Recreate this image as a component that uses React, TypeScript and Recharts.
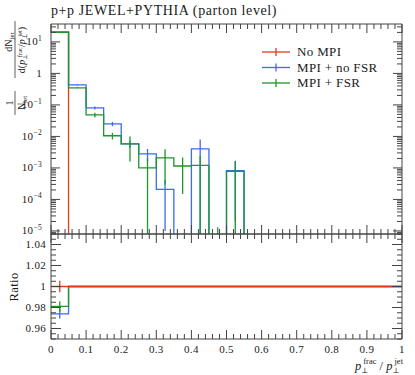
import React from "react";
import { ComposedChart, Line, XAxis, YAxis, ReferenceLine } from "recharts";

// bin edges of the p_perp^frac / p_perp^jet histogram (20 bins of 0.05)
const binEdges = [
  0, 0.05, 0.1, 0.15, 0.2, 0.25, 0.3, 0.35, 0.4, 0.45, 0.5, 0.55, 0.6, 0.65, 0.7, 0.75, 0.8, 0.85,
  0.9, 0.95, 1,
];

// 1/N dN/d(x), per bin
const noMpi = [20.6, 0, 0, 0, 0, 0, 0, 0, 0, 0, 0, 0, 0, 0, 0, 0, 0, 0, 0, 0];
const mpiNoFsr = [
  20.0, 0.43, 0.08, 0.025, 0.0058, 0.0028, 0.00021, 0, 0.004, 0, 0.00082, 0, 0, 0, 0, 0, 0, 0, 0, 0,
];
const mpiFsr = [
  20.2, 0.35, 0.048, 0.0105, 0.0058, 0.001, 0.0021, 0.00115, 0.0012, 0, 0.00078, 0, 0, 0, 0, 0, 0, 0,
  0, 0,
];

const noMpiErr = [0.1, 0, 0, 0, 0, 0, 0, 0, 0, 0, 0, 0, 0, 0, 0, 0, 0, 0, 0, 0];
const mpiNoFsrErr = [
  0.1, 0.02, 0.009, 0.004, 0.0015, 0.0012, 0.0002, 0, 0.004, 0, 0.0008, 0, 0, 0, 0, 0, 0, 0, 0, 0,
];
const mpiFsrErr = [
  0.1, 0.015, 0.008, 0.0025, 0.0042, 0.001, 0.0018, 0.001, 0.0012, 0.000013, 0.0009, 0, 0, 0, 0, 0,
  0, 0, 0, 0,
];

// ratio to "No MPI"
const ratioNoMpi = [1, 1, 1, 1, 1, 1, 1, 1, 1, 1, 1, 1, 1, 1, 1, 1, 1, 1, 1, 1];
const ratioNoFsr = [0.974, 1, 1, 1, 1, 1, 1, 1, 1, 1, 1, 1, 1, 1, 1, 1, 1, 1, 1, 1];
const ratioFsr = [0.981, 1, 1, 1, 1, 1, 1, 1, 1, 1, 1, 1, 1, 1, 1, 1, 1, 1, 1, 1];
const ratioNoMpiErr = [0.0055, 0, 0, 0, 0, 0, 0, 0, 0, 0, 0, 0, 0, 0, 0, 0, 0, 0, 0, 0];
const ratioNoFsrErr = [0.0045, 0, 0, 0, 0, 0, 0, 0, 0, 0, 0, 0, 0, 0, 0, 0, 0, 0, 0, 0];
const ratioFsrErr = [0.005, 0, 0, 0, 0, 0, 0, 0, 0, 0, 0, 0, 0, 0, 0, 0, 0, 0, 0, 0];

const seriesNames = ["No MPI", "MPI + no FSR", "MPI + FSR"];
const RED = "#e63a1e";
const BLUE = "#3a6cf4";
const GREEN = "#1f962a";
const colors = [RED, BLUE, GREEN];

const xMajor = [0, 0.1, 0.2, 0.3, 0.4, 0.5, 0.6, 0.7, 0.8, 0.9, 1];
const xTicks = Array.from({ length: 51 }, (_, i) => i / 50);
const logMajor = [1e-5, 1e-4, 1e-3, 1e-2, 1e-1, 1, 10];
const LOG_DOMAIN: [number, number] = [8e-6, 37];
const logTicks = [1e-6, 1e-5, 1e-4, 1e-3, 1e-2, 1e-1, 1, 10]
  .flatMap((d) => [1, 2, 3, 4, 5, 6, 7, 8, 9].map((m) => d * m))
  .filter((v) => v >= LOG_DOMAIN[0] && v <= LOG_DOMAIN[1]);
const RATIO_DOMAIN: [number, number] = [0.95, 1.05];
const ratioTicks = Array.from({ length: 21 }, (_, i) => +(0.95 + i * 0.005).toFixed(3));

const FLOOR = 1e-9;
const AX = "#444";
const TXT = "#1a1a1a";
const FONT = "Liberation Serif, DejaVu Serif, serif";
const fontStyle = { fontFamily: FONT, letterSpacing: 0.3 };

const pos = (v: number) => (v > 0 ? v : FLOOR);

const topRows = binEdges.map((x, i) => {
  const k = Math.min(i, noMpi.length - 1);
  return { x, red: pos(noMpi[k]), blue: pos(mpiNoFsr[k]), green: pos(mpiFsr[k]) };
});

const ratioRows = binEdges.map((x, i) => {
  const k = Math.min(i, ratioNoMpi.length - 1);
  return { x, red: ratioNoMpi[k], blue: ratioNoFsr[k], green: ratioFsr[k] };
});

function errSegments(vals: number[], errs: number[], floor: number) {
  return vals
    .map((v, i) => ({
      c: (binEdges[i] + binEdges[i + 1]) / 2,
      lo: Math.max(v - errs[i], floor),
      hi: v + errs[i],
      e: errs[i],
    }))
    .filter((s) => s.e > 0);
}

const near = (a: number, b: number) => Math.abs(a - b) < 1e-6;
const isXMajor = (v: number) => xMajor.some((m) => near(m, v));
const isLogMajor = (v: number) => logMajor.some((m) => Math.abs(m - v) / m < 1e-6);
const isRatioMajor = (v: number) => near(v * 50, Math.round(v * 50));

function fmtX(v: number) {
  if (near(v, 0)) return "0";
  if (near(v, 1)) return "1";
  return v.toFixed(1);
}

function fmtRatio(v: number) {
  if (near(v, 1)) return "1";
  return v.toFixed(2);
}

function XTick(props: any) {
  const { x, y, payload, side, labels } = props;
  const v = payload.value;
  const major = isXMajor(v);
  const len = major ? 9 : 5;
  const dir = side === "bottom" ? -1 : 1;
  return (
    <g>
      <line x1={x} x2={x} y1={y} y2={y + dir * len} stroke={AX} strokeWidth={1} />
      {labels && major && (
        <text x={x} y={y + 14} textAnchor="middle" fontSize={11} fill={TXT} style={fontStyle}>
          {fmtX(v)}
        </text>
      )}
    </g>
  );
}

function LogTick(props: any) {
  const { x, y, payload, side } = props;
  const v = payload.value;
  const major = isLogMajor(v);
  const len = major ? 9 : 5;
  const dir = side === "left" ? 1 : -1;
  const e = Math.round(Math.log10(v));
  return (
    <g>
      <line x1={x} x2={x + dir * len} y1={y} y2={y} stroke={AX} strokeWidth={1} />
      {side === "left" && major && (
        <text x={x - 9} y={y + 3.5} textAnchor="end" fontSize={11} fill={TXT} style={fontStyle}>
          {e === 0 ? (
            "1"
          ) : (
            <>
              10
              <tspan dy={-4.5} fontSize={7.5}>
                {e < 0 ? "\u2212" + -e : String(e)}
              </tspan>
            </>
          )}
        </text>
      )}
    </g>
  );
}

function RatioTick(props: any) {
  const { x, y, payload, side } = props;
  const v = payload.value;
  const major = isRatioMajor(v);
  const len = major ? 10 : 5;
  const dir = side === "left" ? 1 : -1;
  return (
    <g>
      <line x1={x} x2={x + dir * len} y1={y} y2={y} stroke={AX} strokeWidth={1} />
      {side === "left" && major && (
        <text x={x - 5} y={y + 3.5} textAnchor="end" fontSize={11} fill={TXT} style={fontStyle}>
          {fmtRatio(v)}
        </text>
      )}
    </g>
  );
}

function errLines(vals: number[], errs: number[], floor: number, color: string, key: string) {
  return errSegments(vals, errs, floor).map((s, i) => (
    <ReferenceLine
      key={key + i}
      segment={[
        { x: s.c, y: s.lo },
        { x: s.c, y: s.hi },
      ]}
      stroke={color}
      strokeWidth={1.3}
      ifOverflow="hidden"
    />
  ));
}

const axisLine = { stroke: AX, strokeWidth: 1 };

export default function App() {
  return (
    <div
      style={{
        position: "absolute",
        left: 0,
        top: 0,
        width: 415,
        height: 375,
        background: "#fff",
        fontFamily: FONT,
      }}
    >
      <div style={{ position: "absolute", left: 0, top: 0 }}>
        <ComposedChart width={415} height={240} data={topRows} margin={{ top: 20, right: 0, bottom: 0, left: 0 }}>
          <XAxis
            dataKey="x"
            type="number"
            domain={[0, 1]}
            allowDataOverflow
            ticks={xTicks}
            interval={0}
            height={6}
            tickSize={0}
            tickMargin={0}
            axisLine={axisLine}
            tickLine={false}
            tick={(p: any) => <XTick {...p} side="bottom" labels={false} />}
          />
          <XAxis
            xAxisId="t"
            orientation="top"
            dataKey="x"
            type="number"
            domain={[0, 1]}
            allowDataOverflow
            ticks={xTicks}
            interval={0}
            height={4}
            tickSize={0}
            tickMargin={0}
            axisLine={axisLine}
            tickLine={false}
            tick={(p: any) => <XTick {...p} side="top" labels={false} />}
          />
          <YAxis
            type="number"
            scale="log"
            domain={LOG_DOMAIN}
            allowDataOverflow
            ticks={logTicks}
            interval={0}
            width={51}
            tickSize={0}
            tickMargin={0}
            axisLine={axisLine}
            tickLine={false}
            tick={(p: any) => <LogTick {...p} side="left" />}
          />
          <YAxis
            yAxisId="r"
            orientation="right"
            type="number"
            scale="log"
            domain={LOG_DOMAIN}
            allowDataOverflow
            ticks={logTicks}
            interval={0}
            width={13}
            tickSize={0}
            tickMargin={0}
            axisLine={axisLine}
            tickLine={false}
            tick={(p: any) => <LogTick {...p} side="right" />}
          />
          <Line dataKey="red" type="stepAfter" stroke={RED} strokeWidth={1.3} dot={false} isAnimationActive={false} />
          {errLines(noMpi, noMpiErr, FLOOR, RED, "re")}
          <Line dataKey="blue" type="stepAfter" stroke={BLUE} strokeWidth={1.3} dot={false} isAnimationActive={false} />
          {errLines(mpiNoFsr, mpiNoFsrErr, FLOOR, BLUE, "be")}
          <Line dataKey="green" type="stepAfter" stroke={GREEN} strokeWidth={1.3} dot={false} isAnimationActive={false} />
          {errLines(mpiFsr, mpiFsrErr, FLOOR, GREEN, "ge")}
        </ComposedChart>
      </div>

      <div style={{ position: "absolute", left: 0, top: 228 }}>
        <ComposedChart width={415} height={147} data={ratioRows} margin={{ top: 0, right: 0, bottom: 0, left: 0 }}>
          <XAxis
            dataKey="x"
            type="number"
            domain={[0, 1]}
            allowDataOverflow
            ticks={xTicks}
            interval={0}
            height={36}
            tickSize={0}
            tickMargin={0}
            axisLine={axisLine}
            tickLine={false}
            tick={(p: any) => <XTick {...p} side="bottom" labels />}
          />
          <XAxis
            xAxisId="t"
            orientation="top"
            dataKey="x"
            type="number"
            domain={[0, 1]}
            allowDataOverflow
            ticks={xTicks}
            interval={0}
            height={6}
            tickSize={0}
            tickMargin={0}
            axisLine={axisLine}
            tickLine={false}
            tick={(p: any) => <XTick {...p} side="top" labels={false} />}
          />
          <YAxis
            type="number"
            domain={RATIO_DOMAIN}
            allowDataOverflow
            ticks={ratioTicks}
            interval={0}
            width={51}
            tickSize={0}
            tickMargin={0}
            axisLine={axisLine}
            tickLine={false}
            tick={(p: any) => <RatioTick {...p} side="left" />}
          />
          <YAxis
            yAxisId="r"
            orientation="right"
            type="number"
            domain={RATIO_DOMAIN}
            allowDataOverflow
            ticks={ratioTicks}
            interval={0}
            width={13}
            tickSize={0}
            tickMargin={0}
            axisLine={axisLine}
            tickLine={false}
            tick={(p: any) => <RatioTick {...p} side="right" />}
          />
          <Line dataKey="blue" type="stepAfter" stroke={BLUE} strokeWidth={1.3} dot={false} isAnimationActive={false} />
          {errLines(ratioNoFsr, ratioNoFsrErr, 0, BLUE, "rbe")}
          <Line dataKey="green" type="stepAfter" stroke={GREEN} strokeWidth={1.3} dot={false} isAnimationActive={false} />
          {errLines(ratioFsr, ratioFsrErr, 0, GREEN, "rge")}
          <Line dataKey="red" type="stepAfter" stroke={RED} strokeWidth={1.3} dot={false} isAnimationActive={false} />
          {errLines(ratioNoMpi, ratioNoMpiErr, 0, RED, "rre")}
        </ComposedChart>
      </div>

      <svg
        width={415}
        height={375}
        style={{ position: "absolute", left: 0, top: 0, pointerEvents: "none", fontFamily: FONT }}
        fill={TXT}
      >
        <text x={51} y={15} fontSize={14} letterSpacing={0.6}>
          p+p JEWEL+PYTHIA (parton level)
        </text>

        {/* y label: 1/N_jet dN_jet / d(p_perp^frac / p_perp^jet) */}
        <g transform="translate(15,72) rotate(-90)" fontSize={10}>
          <text x={-31} y={-2.5} textAnchor="middle">
            1
          </text>
          <line x1={-43} x2={-19} y1={0} y2={0} stroke={TXT} strokeWidth={0.7} />
          <text x={-31} y={10} textAnchor="middle">
            N<tspan dy={2} fontSize={7}>jet</tspan>
          </text>
          <text x={30} y={-3} textAnchor="middle">
            dN<tspan dy={2} fontSize={7}>jet</tspan>
          </text>
          <line x1={-6} x2={51} y1={0} y2={0} stroke={TXT} strokeWidth={0.7} />
          <text x={22} y={10} textAnchor="middle">
            d(<tspan fontStyle="italic">p</tspan>
            <tspan dy={2} fontSize={6}>⊥</tspan>
            <tspan dy={-5.5} dx={-3} fontSize={6.5}>frac</tspan>
            <tspan dy={3.5}>/</tspan>
            <tspan fontStyle="italic">p</tspan>
            <tspan dy={2} fontSize={6}>⊥</tspan>
            <tspan dy={-5.5} dx={-3} fontSize={6.5}>jet</tspan>
            <tspan dy={3.5}>)</tspan>
          </text>
        </g>

        <text transform="translate(18,287) rotate(-90)" textAnchor="middle" fontSize={12.5} letterSpacing={0.4}>
          Ratio
        </text>

        <text x={403} y={370} textAnchor="end" fontSize={12.5}>
          <tspan fontStyle="italic">p</tspan>
          <tspan dy={3} fontSize={7.5}>⊥</tspan>
          <tspan dy={-9} dx={-5} fontSize={8.5}>frac</tspan>
          <tspan dy={6}> / </tspan>
          <tspan fontStyle="italic">p</tspan>
          <tspan dy={3} fontSize={7.5}>⊥</tspan>
          <tspan dy={-9} dx={-5} fontSize={8.5}>jet</tspan>
        </text>

        {seriesNames.map((name, i) => {
          const y = 52 + i * 15.5;
          return (
            <g key={name}>
              <line x1={262} x2={290} y1={y} y2={y} stroke={colors[i]} strokeWidth={1.3} />
              <line x1={276} x2={276} y1={y - 4} y2={y + 4} stroke={colors[i]} strokeWidth={1.3} />
              <text x={297} y={y + 4} fontSize={13} letterSpacing={0.35}>
                {name}
              </text>
            </g>
          );
        })}
      </svg>
    </div>
  );
}
